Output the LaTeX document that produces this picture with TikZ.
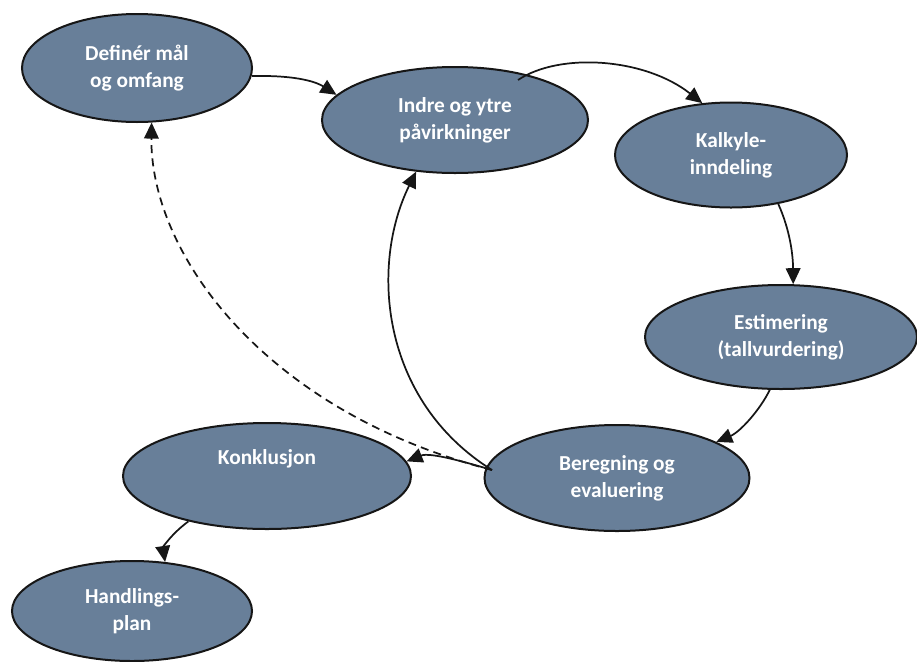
\documentclass[tikz,border=0pt]{standalone}
\usepackage{fontspec}
\setmainfont{Carlito}
\usetikzlibrary{shapes.geometric,arrows.meta,calc}
\definecolor{slate}{RGB}{104,127,153}
\definecolor{edge}{RGB}{22,22,22}
\tikzset{
  step oval/.style={ellipse, draw=edge, line width=1.5pt, fill=slate, inner sep=0pt,
    text=white, font=\fontsize{16}{20}\selectfont\bfseries, align=center},
  conn/.style={draw=edge, line width=1.3pt, -{Triangle[length=12pt,width=11pt]}},
}
\begin{document}
\begin{tikzpicture}[x=0.75pt,y=-0.75pt]
\useasboundingbox (0,0) rectangle (917,661);
\node[step oval, minimum width=172.5pt, minimum height=81pt] (a) at (137,68) {Definér mål\\og omfang};
\node[step oval, minimum width=199.5pt, minimum height=79.5pt] (b) at (455,120) {Indre og ytre\\påvirkninger};
\node[step oval, minimum width=174pt, minimum height=78.75pt] (c) at (731,155) {Kalkyle-\\inndeling};
\node[step oval, minimum width=204pt, minimum height=78pt] (d) at (781,337) {Estimering\\(tallvurdering)};
\node[step oval, minimum width=198.75pt, minimum height=79.5pt] (e) at (617,478) {Beregning og\\evaluering};
\node[step oval, minimum width=216pt, minimum height=79.5pt] (f) at (267,476) {Konklusjon\\[9pt]~};
\node[step oval, minimum width=180pt, minimum height=75pt] (g) at (132,611) {Handlings-\\plan};

\coordinate (bstart) at ($(b.center)+(63,-40)$);
\coordinate (estart) at ($(e.center)+(-125,-8)$);

\draw[conn] (a.-4) .. controls (300,75) and (318,83) .. (b.168);
\draw[conn] (bstart) .. controls (560,52) and (645,58) .. (c.119);
\draw[conn] (c.-46) .. controls (790,230) and (793,255) .. (d.77);
\draw[conn] (d.-102) .. controls (760,410) and (740,432) .. (e.20);
\draw[conn] (estart) .. controls (465,462) and (430,452) .. (f.6);
\draw[conn] (estart) .. controls (380,400) and (370,265) .. (b.-127);
\draw[conn, dashed, dash pattern=on 6pt off 4pt] (estart) .. controls (260,410) and (150,250) .. (a.-75);
\draw[conn] (f.-150) .. controls (170,535) and (163,548) .. (g.56);
\end{tikzpicture}
\end{document}
